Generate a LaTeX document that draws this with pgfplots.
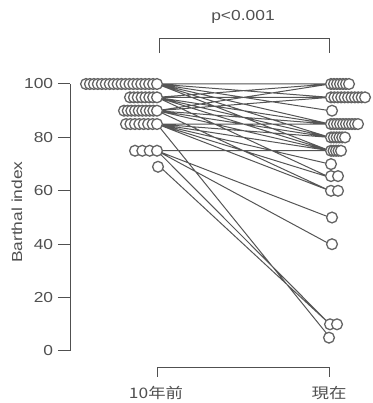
\documentclass[border=0pt]{standalone}
\usepackage{pgfplots}
\pgfplotsset{compat=1.18}
\usepackage{fontspec}
\setmainfont{Liberation Sans}[FakeStretch=1.2]
\newfontfamily\cjk{Noto Sans CJK JP}[FakeStretch=1.2]
\definecolor{txt}{RGB}{80,80,80}
\definecolor{ln}{RGB}{85,85,85}
\definecolor{mk}{RGB}{100,100,100}
\begin{document}
\fontsize{14bp}{16bp}\selectfont
\begin{tikzpicture}
\begin{axis}[
  at={(70bp,52bp)}, anchor=south west,
  scale only axis, width=303bp, height=267bp,
  xmin=70, xmax=373, ymin=0, ymax=100,
  clip=false,
  hide x axis,
  axis y line*=left,
  y axis line style={-, draw=txt, line width=1bp},
  ytick={0,20,40,60,80,100},
  ytick pos=left,
  tick align=outside,
  major tick length=12bp,
  tick style={draw=txt, line width=1bp},
  yticklabel style={font=\fontsize{14.5bp}{16bp}\selectfont, text=txt, /pgf/number format/assume math mode=true},
  unbounded coords=jump,
]
% paired lines: (10 years ago, now)
\addplot[draw=ln, line width=1bp, mark=none] coordinates {
(157,100) (330,100) (nan,nan)
(157,100) (330,100) (nan,nan)
(157,100) (330,100) (nan,nan)
(157,100) (330,100) (nan,nan)
(157,100) (330,100) (nan,nan)
(157,100) (330,95) (nan,nan)
(157,100) (330,95) (nan,nan)
(157,100) (330,95) (nan,nan)
(157,100) (330,95) (nan,nan)
(157,100) (330,95) (nan,nan)
(157,100) (330,95) (nan,nan)
(157,100) (330,95) (nan,nan)
(157,100) (330,90) (nan,nan)
(157,100) (330,85) (nan,nan)
(157,100) (330,85) (nan,nan)
(157,100) (330,85) (nan,nan)
(157,100) (330,80) (nan,nan)
(157,100) (330,80) (nan,nan)
(157,100) (330,75) (nan,nan)
(157,95) (330,100) (nan,nan)
(157,95) (330,95) (nan,nan)
(157,95) (330,95) (nan,nan)
(157,95) (330,85) (nan,nan)
(157,95) (330,85) (nan,nan)
(157,95) (330,80) (nan,nan)
(157,95) (330,75) (nan,nan)
(157,95) (330,65) (nan,nan)
(157,90) (330,100) (nan,nan)
(157,90) (330,95) (nan,nan)
(157,90) (330,95) (nan,nan)
(157,90) (330,85) (nan,nan)
(157,90) (330,85) (nan,nan)
(157,90) (330,85) (nan,nan)
(157,90) (330,80) (nan,nan)
(157,90) (330,80) (nan,nan)
(157,90) (330,75) (nan,nan)
(157,90) (330,60) (nan,nan)
(157,85) (330,85) (nan,nan)
(157,85) (330,85) (nan,nan)
(157,85) (330,80) (nan,nan)
(157,85) (330,75) (nan,nan)
(157,85) (330,70) (nan,nan)
(157,85) (330,65) (nan,nan)
(157,85) (330,60) (nan,nan)
(157,85) (330,5) (nan,nan)
(157,75) (330,75) (nan,nan)
(157,75) (330,50) (nan,nan)
(157,75) (330,40) (nan,nan)
(157,75) (330,10) (nan,nan)
(157,70) (330,10) (nan,nan)
};
% circles (horizontally spread at each value)
\addplot[only marks, mark=*, mark size=5.4bp,
  mark options={fill=white, draw=mk, line width=1.3bp}] coordinates {
(86,100) (89.9,100) (93.9,100) (97.8,100) (101.8,100) (105.7,100) (109.7,100)
(113.6,100) (117.6,100) (121.5,100) (125.4,100) (129.4,100) (133.3,100)
(137.3,100) (141.2,100) (145.2,100) (149.1,100) (153.1,100) (157,100)
(130,95) (133.9,95) (137.7,95) (141.6,95) (145.4,95) (149.3,95) (153.1,95) (157,95)
(124,90) (127.7,90) (131.3,90) (135,90) (138.7,90) (142.3,90) (146,90) (149.7,90) (153.3,90) (157,90)
(126,85) (130.4,85) (134.9,85) (139.3,85) (143.7,85) (148.1,85) (152.6,85) (157,85)
(135,75) (142.3,75) (149.7,75) (157,75)
(158,69)
(331,100) (334,100) (337,100) (340,100) (343,100) (346,100) (349,100)
(331,95) (334.4,95) (337.8,95) (341.2,95) (344.6,95) (348,95) (351.4,95) (354.8,95) (358.2,95) (361.6,95) (365,95)
(332,90)
(331,85) (334,85) (337,85) (340,85) (343,85) (346,85) (349,85) (352,85) (355,85) (358,85)
(331,80) (333.8,80) (336.6,80) (339.4,80) (342.2,80) (345,80)
(331,75) (333.5,75) (336,75) (338.5,75) (341,75)
(331,70)
(331,65.5) (338,65.5)
(331,60) (338,60)
(332,50)
(332,40)
(330,10) (337,10)
(329,5)
};
% brackets and labels
\draw[txt, line width=1bp] (axis cs:157,-9.7) -- (axis cs:157,-6) -- (axis cs:329,-6) -- (axis cs:329,-9.7);
\draw[txt, line width=1bp] (axis cs:159,111.6) -- (axis cs:159,116.9) -- (axis cs:329,116.9) -- (axis cs:329,111.6);
\node[text=txt, font=\fontsize{14.5bp}{16bp}\selectfont] at (axis cs:243,125.3) {p<0.001};
\node[text=txt, font=\cjk\fontsize{14.5bp}{16bp}\selectfont] at (axis cs:156,-15.6) {10年前};
\node[text=txt, font=\cjk\fontsize{14.5bp}{16bp}\selectfont] at (axis cs:329,-15.6) {現在};
\node[text=txt, rotate=90, font=\fontsize{14.5bp}{16bp}\selectfont] at (axis cs:17,52) {Barthal index};
\end{axis}
\pgfresetboundingbox
\path[use as bounding box] (0,0) rectangle (373bp,403bp);
\end{tikzpicture}
\end{document}
